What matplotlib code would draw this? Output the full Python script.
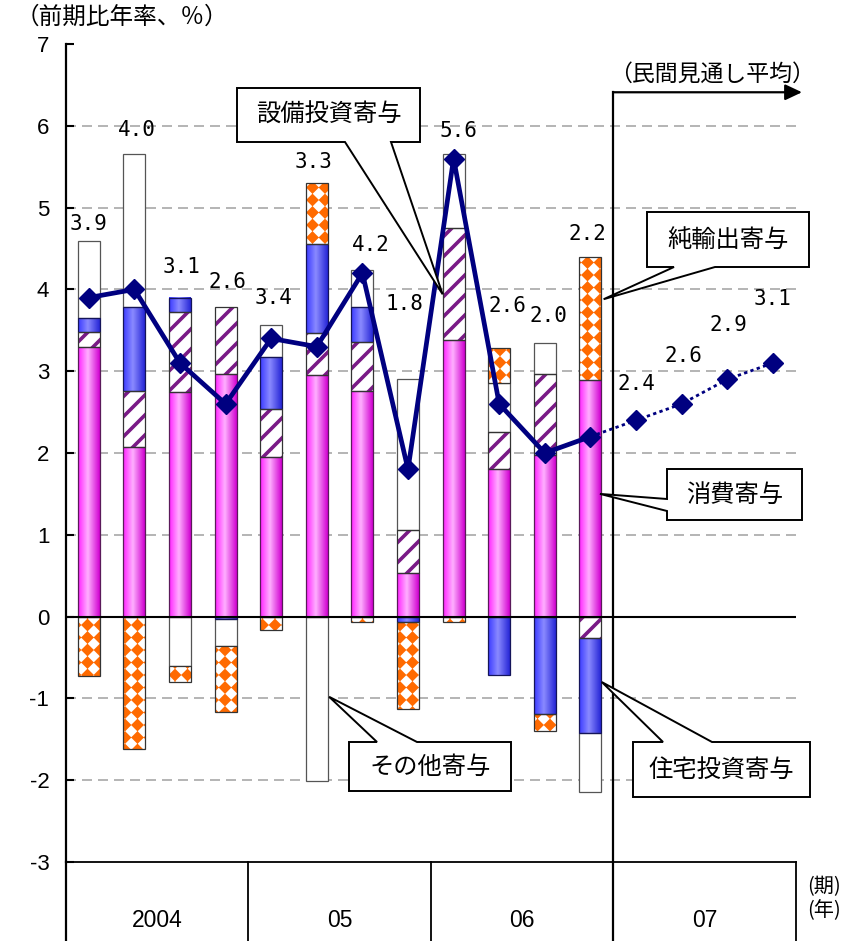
import numpy as np
import matplotlib
matplotlib.use("Agg")
import matplotlib.pyplot as plt
import matplotlib.hatch as mhatch
from matplotlib.path import Path
from matplotlib.patches import Polygon
from matplotlib.transforms import IdentityTransform

# ---------------- data ----------------
years = ["2004", "05", "06", "07"]
consumption = [3.30, 2.07, 2.74, 2.97, 1.95, 2.95, 2.76, 0.53, 3.38, 1.81, 1.97, 2.89]
capex = [0.18, 0.69, 0.98, 0.82, 0.59, 0.52, 0.60, 0.53, 1.37, 0.45, 1.00, -0.26]
housing = [0.17, 1.03, 0.18, -0.03, 0.63, 1.09, 0.43, -0.06, 0.00, -0.72, -1.19, -1.16]
other = [0.94, 1.87, -0.60, -0.33, 0.39, -2.01, 0.45, 1.84, 0.91, 0.60, 0.38, -0.73]
net_exports = [-0.73, -1.62, -0.20, -0.81, -0.16, 0.74, -0.06, -1.07, -0.06, 0.42, -0.21, 1.50]
gdp_growth = [3.9, 4.0, 3.1, 2.6, 3.4, 3.3, 4.2, 1.8, 5.6, 2.6, 2.0, 2.2, 2.4, 2.6, 2.9, 3.1]
n_actual = 12
yticks = list(range(-3, 8))

# label placement (layout): x offset in quarters, y in data units
label_dx = [0.0, 0.06, 0.04, 0.03, 0.04, -0.08, 0.19, -0.07, 0.10, 0.17, 0.09, -0.07, 0, 0.05, 0.02, 0]
label_y = [4.80, 5.95, 4.27, 4.09, 3.89, 5.56, 4.54, 3.82, 5.94, 3.80, 3.67, 4.68, 2.84, 3.18, 3.56, 3.88]

# ---------------- custom hatches ----------------
class DiamondGrid(mhatch.HatchPatternBase):
    """'.' -> square grid of filled diamonds."""
    def __init__(self, hatch, density):
        self.n = hatch.count('.') * 4
        self.num_vertices = (self.n + 1) ** 2 * 5 if self.n else 0

    def set_vertices_and_codes(self, vertices, codes):
        n = self.n
        r = 0.31 / n
        base = np.array([[0, r], [-r, 0], [0, -r], [r, 0], [0, r]])
        bc = np.array([Path.MOVETO, Path.LINETO, Path.LINETO, Path.LINETO, Path.CLOSEPOLY],
                      dtype=Path.code_type)
        parts = []
        for i in range(n + 1):
            for j in range(n + 1):
                parts.append(base + [i / n, j / n])
        vertices[:] = np.concatenate(parts)
        codes[:] = np.tile(bc, (n + 1) ** 2)


class WideNorthEast(mhatch.HatchPatternBase):
    """'/' -> diagonal stripes, 5 per inch per '/'."""
    def __init__(self, hatch, density):
        self.num_lines = int(hatch.count('/') * 5)
        self.num_vertices = (self.num_lines + 1) * 2 if self.num_lines else 0

    def set_vertices_and_codes(self, vertices, codes):
        steps = np.linspace(-0.5, 0.5, self.num_lines + 1)
        vertices[0::2, 0] = 0.0 + steps
        vertices[0::2, 1] = 0.0 - steps
        vertices[1::2, 0] = 1.0 + steps
        vertices[1::2, 1] = 1.0 - steps
        codes[0::2] = Path.MOVETO
        codes[1::2] = Path.LINETO


mhatch._hatch_types = [t for t in mhatch._hatch_types
                       if t not in (mhatch.SmallFilledCircles, mhatch.NorthEastHatch)] \
                      + [DiamondGrid, WideNorthEast]
plt.rcParams['hatch.linewidth'] = 2.6

JP = ['Noto Sans CJK JP', 'DejaVu Sans']
NUM = ['Liberation Sans', 'DejaVu Sans']

W, H = 846, 941
fig = plt.figure(figsize=(W / 100, H / 100), dpi=100)
ax = fig.add_axes([66 / W, 1 - 862 / H, (795.6 - 66) / W, (862 - 44) / H])
XMIN, XMAX, YMIN, YMAX = 0.5, 16.5, -3, 7

x = np.arange(1, len(gdp_growth) + 1)
bw = 0.48

# ---------------- stacked bars ----------------
series = [("cons", consumption), ("capex", capex), ("housing", housing),
          ("other", other), ("netexp", net_exports)]
segs = {k: [] for k, _ in series}
for i in range(n_actual):
    pos, neg = 0.0, 0.0
    for key, vals in series:
        v = vals[i]
        if v == 0:
            continue
        if v > 0:
            segs[key].append((x[i], pos, v)); pos += v
        else:
            segs[key].append((x[i], neg, v)); neg += v

def grad_img(left, mid, right):
    t = np.linspace(0, 1, 64)
    stops = [0, 0.45, 1]
    cols = np.array([matplotlib.colors.to_rgb(c) for c in (left, mid, right)])
    img = np.stack([np.interp(t, stops, cols[:, k]) for k in range(3)], axis=-1)
    return img[np.newaxis, :, :]

pink = grad_img('#FF22FF', '#FFB0FF', '#D000D0')
blue = grad_img('#3A3AFF', '#8A8AFF', '#2626D6')

def xs(s):
    return [a for a, _, _ in s]
def hs(s):
    return [c for _, _, c in s]
def bs(s):
    return [b for _, b, _ in s]

for key, img, ec in [("cons", pink, '#5A1A5A'), ("housing", blue, '#14145A')]:
    for (xx, b, h) in segs[key]:
        y0, y1 = sorted([b, b + h])
        ax.imshow(img, extent=(xx - bw / 2, xx + bw / 2, y0, y1), aspect='auto',
                  interpolation='bilinear', zorder=2)
    s = segs[key]
    ax.bar(xs(s), hs(s), bottom=bs(s), width=bw, fill=False, edgecolor=ec,
           linewidth=0.9, zorder=3)

# capex: purple stripes
s = segs["capex"]
ax.bar(xs(s), hs(s), bottom=bs(s), width=bw, facecolor='white', edgecolor='#7A1A86',
       hatch='//', linewidth=0, zorder=2)
ax.bar(xs(s), hs(s), bottom=bs(s), width=bw, fill=False, edgecolor='#333333',
       linewidth=0.9, zorder=3)
# other: white
s = segs["other"]
ax.bar(xs(s), hs(s), bottom=bs(s), width=bw, facecolor='white', edgecolor='#555555',
       linewidth=0.9, zorder=2)
# net exports: orange diamonds
s = segs["netexp"]
ax.bar(xs(s), hs(s), bottom=bs(s), width=bw, facecolor='white', edgecolor='#FF6A00',
       hatch='..', linewidth=0, zorder=2)
ax.bar(xs(s), hs(s), bottom=bs(s), width=bw, fill=False, edgecolor='#333333',
       linewidth=0.9, zorder=3)

# ---------------- grid / axes ----------------
for v in yticks:
    if v in (0, YMIN, YMAX):
        continue
    ax.axhline(v, color='#A8A8A8', lw=1.2, ls=(0, (6, 3.6)), zorder=1)
ax.axhline(0, color='black', lw=1.5, zorder=4)

ax.set_xlim(XMIN, XMAX)
ax.set_ylim(YMIN, YMAX)
ax.set_xticks([])
ax.set_yticks(yticks)
ax.set_yticklabels([str(v) for v in yticks], fontsize=16, family=NUM)
ax.tick_params(axis='y', direction='in', length=6, width=1.5, pad=12)
for sp in ('top', 'right'):
    ax.spines[sp].set_visible(False)
ax.spines['left'].set_linewidth(1.6)
ax.spines['bottom'].set_linewidth(1.3)

# ---------------- GDP line ----------------
navy = '#000080'
ax.plot(x[:n_actual], gdp_growth[:n_actual], color=navy, lw=3.4, marker='D', ms=10,
        zorder=5, solid_joinstyle='miter')
ax.plot(x[n_actual - 1:], gdp_growth[n_actual - 1:], color=navy, lw=2,
        ls=(0, (1.2, 1.2)), zorder=5)
ax.plot(x[n_actual:], gdp_growth[n_actual:], ls='none', color=navy, marker='D',
        ms=10, zorder=5)

for i, v in enumerate(gdp_growth):
    ax.text(x[i] + label_dx[i], label_y[i], f"{v:.1f}", ha='center', va='center',
            fontsize=15, family='DejaVu Sans Mono', zorder=6)

# ---------------- lower category area ----------------
ybot = YMIN - 0.96
for xd in [0.5, 4.5, 8.5, 12.5, 16.5]:
    ax.plot([xd, xd], [YMIN, ybot], color='black', lw=1.6 if xd == 0.5 else 1.3,
            clip_on=False, zorder=4)
for k, yr in enumerate(years):
    ax.text(2.5 + 4 * k, YMIN - 0.72, yr, ha='center', va='center', fontsize=16.5,
            family=NUM, clip_on=False)
ax.text(17.12, YMIN - 0.30, "(期)", ha='center', va='center', fontsize=14.5, family=JP)
ax.text(17.12, YMIN - 0.60, "(年)", ha='center', va='center', fontsize=14.5, family=JP)

# forecast divider + arrow
y_arrow = 6.41
ax.plot([12.5, 12.5], [y_arrow, ybot], color='black', lw=1.6, clip_on=False, zorder=4)
ax.annotate('', xy=(16.64, y_arrow), xytext=(12.5, y_arrow),
            arrowprops=dict(arrowstyle='-|>,head_length=0.85,head_width=0.4',
                            mutation_scale=12, color='black', lw=1.6,
                            shrinkA=0, shrinkB=0),
            annotation_clip=False)
fig.text(712 / W, 1 - 74 / H, "（民間見通し平均）", ha='center', va='center',
         fontsize=16.5, family=JP)
fig.text(122 / W, 1 - 17 / H, "（前期比年率、％）", ha='center', va='center',
         fontsize=17, family=JP)

# ---------------- callouts ----------------
def callout(text, box, side, base, tip):
    x0, y0, x1, y1 = box
    tx, ty = ax.transData.transform(tip)
    Yt, Yb = H - y0, H - y1
    b0, b1 = base
    if side == 'bottom':
        verts = [(x0, Yt), (x1, Yt), (x1, Yb), (b1, Yb), (tx, ty), (b0, Yb), (x0, Yb)]
    elif side == 'top':
        verts = [(x0, Yt), (b0, Yt), (tx, ty), (b1, Yt), (x1, Yt), (x1, Yb), (x0, Yb)]
    else:  # left
        verts = [(x0, Yt), (x1, Yt), (x1, Yb), (x0, Yb), (x0, H - b1), (tx, ty), (x0, H - b0)]
    fig.add_artist(Polygon(verts, closed=True, transform=IdentityTransform(),
                           facecolor='white', edgecolor='black', lw=1.4, zorder=7))
    fig.text((x0 + x1) / 2 / W, 1 - (y0 + y1) / 2 / H, text, ha='center', va='center',
             fontsize=17.5, family=JP, zorder=8)

callout("設備投資寄与", (237, 88, 420, 142), 'bottom', (345, 391), (8.76, 3.94))
callout("純輸出寄与", (647, 212, 809, 267), 'bottom', (674, 715), (12.29, 3.88))
callout("消費寄与", (667, 469, 802, 520), 'left', (499, 511), (12.21, 1.50))
callout("住宅投資寄与", (633, 742, 810, 797), 'top', (663, 712), (12.25, -0.80))
callout("その他寄与", (349, 742, 511, 791), 'top', (377, 417), (6.27, -0.98))

fig.savefig("out.png", dpi=100)
